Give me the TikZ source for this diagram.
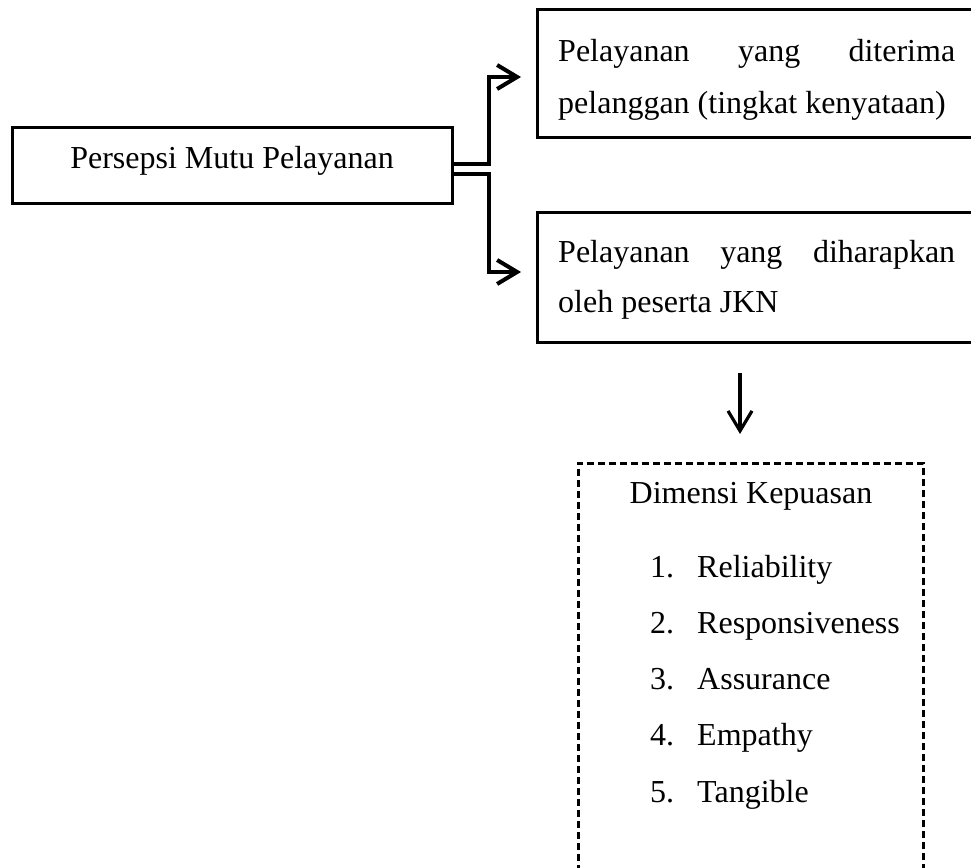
\documentclass[tikz,border=0pt]{standalone}
\usepackage{fontspec}
\setmainfont{Liberation Serif}
\usetikzlibrary{arrows.meta}
\begin{document}
\begin{tikzpicture}[x=1pt,y=-1pt,
  txt/.style={font=\fontsize{32}{38}\selectfont, inner sep=0pt},
  boxn/.style={draw, line width=3pt, inner sep=0pt},
  dashbox/.style={draw, line width=3pt, inner sep=0pt, dash pattern=on 7pt off 4pt},
  conn/.style={line width=4pt, -{Straight Barb[length=20pt,width=24pt]}},
  darrow/.style={line width=3.2pt, -{Straight Barb[length=20pt,width=24pt]}}
]
\useasboundingbox (0,0) rectangle (971,867);
\clip (0,0) rectangle (971,867);
\fill[white] (0,0) rectangle (971,867);

% left box
\node[boxn, minimum width=440pt, minimum height=76pt] (persepsi) at (232,165) {};
\node[txt, anchor=base] (persepsiT) at (232,168) {Persepsi Mutu Pelayanan};

% top right box
\node[boxn, minimum width=463pt, minimum height=127pt] (terima) at (768.5,73.5) {};
\node[txt, anchor=base west] (terimaA) at (558,62) {\makebox[397pt][s]{Pelayanan yang diterima}};
\node[txt, anchor=base west] (terimaB) at (558,113) {pelanggan (tingkat kenyataan)};

% second right box
\node[boxn, minimum width=463pt, minimum height=130pt] (harap) at (768.5,277) {};
\node[txt, anchor=base west] (harapA) at (558,262) {\makebox[397pt][s]{Pelayanan yang diharapkan}};
\node[txt, anchor=base west] (harapB) at (558,312) {oleh peserta JKN};

% connectors
\coordinate (t1) at (521,77);
\coordinate (t2) at (521,272);
\draw[conn] ([yshift=1pt]persepsi.east) -- ++(35,0) |- (t1);
\draw[conn] ([yshift=-9pt]persepsi.east) -- ++(35,0) |- (t2);

% down arrow
\coordinate (dstart) at (740,373);
\coordinate (dend) at (740,434);
\draw[darrow] (dstart) -- (dend);

% dashed box
\node[dashbox, minimum width=345pt, minimum height=437pt] (dimensi) at (750.5,681.5) {};
\node[txt, anchor=base] (dimT) at (751,503) {Dimensi Kepuasan};

\node[txt, anchor=base west] (n1) at (650,577) {1.};
\node[txt, anchor=base west] (i1) at (697,577) {Reliability};
\node[txt, anchor=base west] (n2) at (650,633) {2.};
\node[txt, anchor=base west] (i2) at (697,633) {Responsiveness};
\node[txt, anchor=base west] (n3) at (650,689) {3.};
\node[txt, anchor=base west] (i3) at (697,689) {Assurance};
\node[txt, anchor=base west] (n4) at (650,745) {4.};
\node[txt, anchor=base west] (i4) at (697,745) {Empathy};
\node[txt, anchor=base west] (n5) at (650,802) {5.};
\node[txt, anchor=base west] (i5) at (697,802) {Tangible};
\end{tikzpicture}
\end{document}
